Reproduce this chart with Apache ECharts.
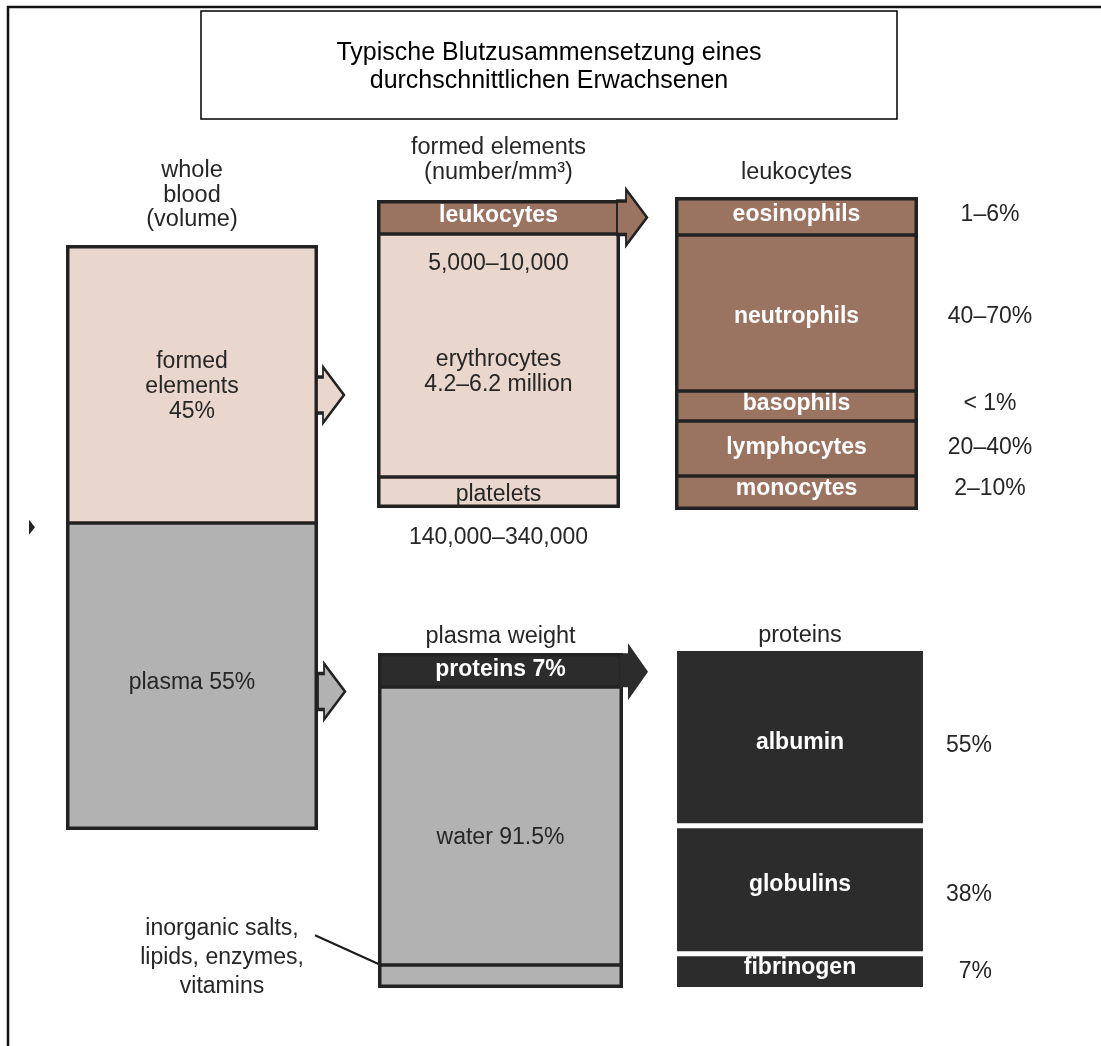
<!DOCTYPE html>
<html>
<head>
<meta charset="utf-8">
<title>Blutzusammensetzung</title>
<script src="https://cdn.jsdelivr.net/npm/echarts@6/dist/echarts.min.js"></script>
<style>
  html, body { margin: 0; padding: 0; background: #fff; }
  #chart { width: 1101px; height: 1046px; }
</style>
</head>
<body>
<div id="chart"></div>
<script>
// column headers
const headers = ['whole\nblood\n(volume)', 'formed elements\n(number/mm³)', 'leukocytes', 'plasma weight', 'proteins'];

// whole blood (volume) – drawn share of the column
const bloodParts = ['formed\nelements\n45%', 'plasma 55%'];
const bloodShare = [47.4, 52.6];

// formed elements (number/mm³)
const formedParts = ['leukocytes', 'erythrocytes\n4.2–6.2 million', 'platelets'];
const formedShare = [11, 79, 10];
const formedCounts = ['', '5,000–10,000', '140,000–340,000'];

// leukocytes
const leukoParts = ['eosinophils', 'neutrophils', 'basophils', 'lymphocytes', 'monocytes'];
const leukoShare = [12, 50, 9.5, 17.5, 11];
const leukoPct = ['1–6%', '40–70%', '< 1%', '20–40%', '2–10%'];

// plasma weight
const plasmaParts = ['proteins 7%', 'water 91.5%', ''];
const plasmaShare = [10, 83, 7];
const plasmaNotes = ['', '', 'inorganic salts,\nlipids, enzymes,\nvitamins'];

// proteins
const proteinParts = ['albumin', 'globulins', 'fibrinogen'];
const proteinShare = [52, 37.5, 10.5];
const proteinPct = ['55%', '38%', '7%'];

const FONT = '"Liberation Sans", Arial, Helvetica, sans-serif';
const PINK = '#E9D6CC';
const BROWN = '#9B7361';
const GRAY = '#B2B2B2';
const DARK = '#2C2C2C';
const INK = '#262626';
const LINE = '#222222';

const chart = echarts.init(document.getElementById('chart'));

// bar borders are drawn inside the bar rect, so grids sit on the outer edges
const grids = [
  { left: 66, top: 245, width: 252, height: 585 },
  { left: 377, top: 200, width: 243, height: 308 },
  { left: 675, top: 197, width: 243, height: 313 },
  { left: 378, top: 653, width: 245, height: 335 },
  { left: 674.5, top: 648.5, width: 251, height: 341 }
];
const headerMargin = [13, 15.5, 12.5, 4.5, 1];

const xAxes = headers.map((h, k) => ({
  type: 'category',
  gridIndex: k,
  position: 'top',
  data: [h],
  axisLine: { show: false },
  axisTick: { show: false },
  splitLine: { show: false },
  axisLabel: { color: INK, fontFamily: FONT, fontSize: 23.5, lineHeight: 24.5, margin: headerMargin[k] }
}));
const yAxes = headers.map((h, k) => ({
  type: 'value', gridIndex: k, inverse: true, min: 0, max: 100, show: false
}));

// arrow shapes
const hollowArrow = 'path://M0 10 L6 10 L6 0 L27 28 L6 56 L6 46 L0 46 Z';
const bandArrow = 'path://M0 11.5 L9 11.5 L9 0 L30 28 L9 56 L9 45 L0 45 Z';
const darkArrow = 'path://M0 10 L8 10 L8 0 L28 28.5 L8 57 L8 44 L0 44 Z';

const sumTo = (share, i) => share.slice(0, i).reduce((a, b) => a + b, 0);
const mid = (share, i) => sumTo(share, i) + share[i] / 2;

const series = [];

function addColumn(k, parts, share, cfg, notes) {
  parts.forEach((name, i) => {
    const dy = (cfg.shift && cfg.shift[i]) || 0;
    const s = {
      type: 'bar',
      xAxisIndex: k,
      yAxisIndex: k,
      stack: 'col' + k,
      barWidth: '100%',
      barGap: '-100%',
      silent: true,
      clip: false,
      data: [share[i]],
      itemStyle: { color: cfg.fill[i], borderColor: cfg.stroke || 'transparent', borderWidth: cfg.strokeWidth || 0 },
      label: {
        show: !!name,
        position: 'inside',
        formatter: name,
        color: cfg.text[i],
        fontFamily: FONT,
        fontSize: 23,
        fontWeight: cfg.bold[i] ? 'bold' : 'normal',
        lineHeight: 25,
        offset: [0, dy]
      }
    };
    const mk = cfg.marks && cfg.marks[i];
    if (mk) {
      s.markPoint = {
        silent: true,
        label: { show: false },
        data: mk.map(m => ({
          coord: [0, m.edge ? sumTo(share, i) : mid(share, i)],
          symbol: m.symbol,
          symbolSize: m.size,
          symbolOffset: m.offset,
          symbolKeepAspect: false,
          itemStyle: m.style
        }))
      };
    }
    series.push(s);
  });
  // outer frame of the column plus the dividers between its parts
  if (cfg.frame) {
    series.push({
      type: 'bar', xAxisIndex: k, yAxisIndex: k, stack: 'frame' + k,
      barWidth: '100%', barGap: '-100%', silent: true,
      data: [share.reduce((a, b) => a + b, 0)],
      itemStyle: { color: 'rgba(0,0,0,0)', borderColor: LINE, borderWidth: cfg.frame },
      markLine: {
        silent: true,
        symbol: 'none',
        label: { show: false },
        lineStyle: { color: LINE, width: 3.5, type: 'solid' },
        data: share.slice(1).map((v, i) => ({ yAxis: sumTo(share, i + 1) }))
      }
    });
  }
  if (notes) {
    notes.forEach((note, i) => {
      series.push({
        type: 'bar',
        xAxisIndex: k,
        yAxisIndex: k,
        stack: 'note' + k,
        barWidth: '100%',
        barGap: '-100%',
        silent: true,
        clip: false,
        data: [share[i]],
        itemStyle: { color: 'rgba(0,0,0,0)' },
        label: Object.assign({
          show: !!note,
          formatter: note,
          color: INK,
          fontFamily: FONT,
          fontSize: 23,
          lineHeight: 25
        }, cfg.note(i))
      });
    });
  }
}

// whole blood
addColumn(0, bloodParts, bloodShare, {
  fill: [PINK, GRAY], text: [INK, INK], bold: [false, false],
  frame: 3.5, shift: [3, 7],
  marks: [
    [{ symbol: hollowArrow, size: [27, 56], offset: [138.5, 11.4], style: { color: PINK, borderColor: LINE, borderWidth: 2.5 } }],
    [
      { symbol: hollowArrow, size: [27, 56], offset: [139.5, 15.3], style: { color: GRAY, borderColor: LINE, borderWidth: 2.5 } },
      { symbol: 'path://M0 0 L6 7.5 L0 15 Z', size: [6, 15], offset: [-160, 5], edge: true, style: { color: '#222' } }
    ]
  ]
});

// formed elements
addColumn(1, formedParts, formedShare, {
  fill: [BROWN, PINK, PINK], text: ['#fff', INK, INK], bold: [true, false, false],
  frame: 3.5, shift: [-1, 17, 2],
  marks: [[{ symbol: bandArrow, size: [30, 56], offset: [133.5, 0.5], style: { color: BROWN, borderColor: LINE, borderWidth: 2.5 } }]],
  note: i => i === 1
    ? { position: 'insideTop', distance: 17 }
    : { position: 'bottom', distance: 17.5 }
}, formedCounts);

// leukocytes
const leukoShift = [-1, 4, -2, -1, -4];
addColumn(2, leukoParts, leukoShare, {
  fill: leukoParts.map(() => BROWN), text: leukoParts.map(() => '#fff'), bold: leukoParts.map(() => true),
  frame: 3.5, shift: leukoShift,
  note: i => ({ position: ['100%', '50%'], offset: [72, leukoShift[i]], align: 'center', verticalAlign: 'middle' })
}, leukoPct);

// plasma weight
addColumn(3, plasmaParts, plasmaShare, {
  fill: [DARK, GRAY, GRAY], text: ['#fff', INK, INK], bold: [true, false, false],
  frame: 3.5, shift: [0, 12.5, 0],
  marks: [[{ symbol: darkArrow, size: [28, 57], offset: [133.5, 2], style: { color: DARK } }]],
  note: () => ({ position: [-156, '50%'], offset: [0, -19], align: 'center', verticalAlign: 'middle', lineHeight: 29 })
}, plasmaNotes);

// proteins: white gaps between dark blocks
addColumn(4, proteinParts, proteinShare, {
  fill: proteinParts.map(() => DARK), text: proteinParts.map(() => '#fff'), bold: proteinParts.map(() => true),
  stroke: '#fff', strokeWidth: 2.5, shift: [5, -5, -4],
  note: i => ({ position: ['100%', '50%'], offset: [66.5, [8, 5, 0][i]], align: 'right', verticalAlign: 'middle' })
}, proteinPct);

const option = {
  backgroundColor: '#fff',
  animation: false,
  grid: grids,
  xAxis: xAxes,
  yAxis: yAxes,
  series: series,
  graphic: [
    { id: 'frameTop', type: 'line', shape: { x1: 7, y1: 7, x2: 1101, y2: 7 }, style: { stroke: '#111', lineWidth: 2.5 } },
    { id: 'frameLeft', type: 'line', shape: { x1: 8, y1: 6, x2: 8, y2: 1046 }, style: { stroke: '#111', lineWidth: 2.5 } },
    { id: 'titleBox', type: 'rect', shape: { x: 201, y: 11, width: 696, height: 108 }, style: { fill: '#fff', stroke: '#000', lineWidth: 1.5 } },
    {
      id: 'titleText', type: 'text', x: 549, y: 67,
      style: {
        text: 'Typische Blutzusammensetzung eines\ndurchschnittlichen Erwachsenen',
        font: '25px ' + FONT, lineHeight: 28, fill: '#000', align: 'center', verticalAlign: 'middle'
      }
    }
  ]
};

chart.setOption(option);

// leader line from the salts note into the bottom band of the plasma column
const salts = chart.convertToPixel({ gridIndex: 3 }, [0, mid(plasmaShare, 2)]);
const dot = [salts[0] - 90.5, salts[1] + 2];
chart.setOption({
  graphic: [
    { id: 'leader', type: 'line', shape: { x1: dot[0] - 95, y1: dot[1] - 43, x2: dot[0], y2: dot[1] }, style: { stroke: '#1a1a1a', lineWidth: 2 } },
    { id: 'leaderDot', type: 'circle', shape: { cx: dot[0], cy: dot[1], r: 4 }, style: { fill: '#1a1a1a' } }
  ]
});

window.addEventListener('resize', () => chart.resize());
</script>
</body>
</html>
